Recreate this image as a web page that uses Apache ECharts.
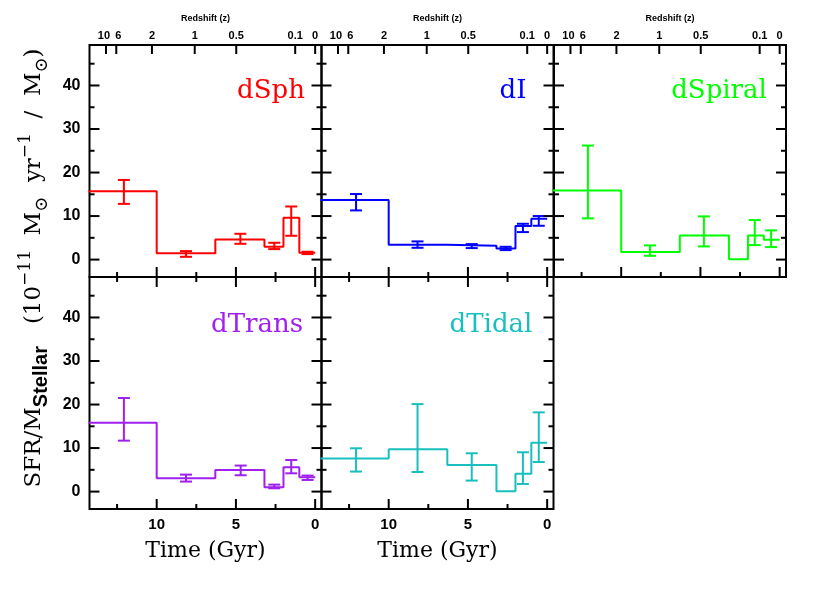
<!DOCTYPE html>
<html><head><meta charset="utf-8">
<script src="https://cdn.jsdelivr.net/npm/echarts@6/dist/echarts.min.js"></script>
<style>html,body{margin:0;padding:0;background:#fff}#c{width:830px;height:599px}</style>
</head><body><div id="c"></div>
<script>
// ---- data ----
const panelNames = ['dSph', 'dI', 'dSpiral', 'dTrans', 'dTidal'];
const panelColors = ['#ff0000', '#0000ff', '#00ff00', '#a020f0', '#19bfbf'];
const binEdges = [14.3, 10, 6.3, 3.2, 2.0, 1.0, 0];   // lookback time (Gyr)

const levelSph = [15.7, 1.43, 4.64, 2.94, 9.6, 1.56];
const levelI = [13.7, 3.4, 3.17, 2.57, 7.7, 9.38];
const levelSpiral = [15.9, 1.72, 5.56, 0.1, 5.56, 4.55];
const levelTrans = [15.8, 3.06, 4.97, 0.99, 5.59, 3.29];
const levelTidal = [7.6, 9.7, 6.1, 0.05, 4.1, 11.2];

const errTimeSph = [12.07, 8.15, 4.72, 2.58, 1.51, 0.48];
const errLowSph = [12.8, 0.64, 3.63, 2.41, 5.47, 1.26];
const errHighSph = [18.3, 1.95, 5.93, 3.86, 12.2, 1.8];

const errTimeI = [12.06, 8.18, 4.76, 2.62, 1.53, 0.53];
const errLowI = [11.3, 2.71, 2.64, 2.18, 6.32, 7.77];
const errHighI = [15.06, 4.18, 3.56, 2.94, 8.23, 10.0];

const errTimeSpiral = [12.1, 8.18, 4.78, 1.57, 0.54];
const errLowSpiral = [9.47, 0.87, 3.03, 3.33, 2.87];
const errHighSpiral = [26.2, 3.26, 9.93, 9.08, 6.71];

const errTimeTrans = [12.07, 8.15, 4.7, 2.58, 1.51, 0.48];
const errLowTrans = [11.7, 2.3, 3.75, 0.76, 4.2, 2.67];
const errHighTrans = [21.5, 3.9, 5.98, 1.6, 7.26, 3.68];

const errTimeTidal = [12.06, 8.18, 4.76, 1.53, 0.53];
const errLowTidal = [4.6, 4.5, 2.53, 1.75, 6.8];
const errHighTidal = [9.95, 20.1, 8.8, 9.03, 18.2];

const majorTimeTicks = [0, 5, 10];
const minorTimeTicks = [2.5, 7.5, 12.5];
const majorYTicks = [0, 10, 20, 30, 40];
const minorYTicks = [5, 15, 25, 35, 45];
const redshiftTimes = [13.2, 12.55, 10.3, 7.6, 4.98, 1.26, 0];
const redshiftLabels = ['10', '6', '2', '1', '0.5', '0.1', '0'];

// ---- layout ----
const xMin = -0.4, xMax = 14.24, yMin = -4, yMax = 49.3;
const colLeft = [89.5, 321.5, 554], rowTop = [45, 277], pW = 232, pH = 232;
const labelPos = [[271, 91], [513, 91], [719, 91], [257, 325], [491, 325]];

const levels = [levelSph, levelI, levelSpiral, levelTrans, levelTidal];
const errT = [errTimeSph, errTimeI, errTimeSpiral, errTimeTrans, errTimeTidal];
const errL = [errLowSph, errLowI, errLowSpiral, errLowTrans, errLowTidal];
const errH = [errHighSph, errHighI, errHighSpiral, errHighTrans, errHighTidal];

const grids = [], xAxes = [], yAxes = [], series = [], graphics = [];
const labelFont = { fontFamily: 'Liberation Sans', fontWeight: 'bold', color: '#000' };

function xAxisDef(g, pos, extra) {
  return Object.assign({
    gridIndex: g, type: 'value', position: pos, inverse: true, min: xMin, max: xMax,
    axisLine: { show: false, onZero: false }, splitLine: { show: false },
    axisTick: { show: false }, axisLabel: { show: false }
  }, extra || {});
}
function yAxisDef(g, pos, extra) {
  return Object.assign({
    gridIndex: g, type: 'value', position: pos, min: yMin, max: yMax,
    axisLine: { show: false, onZero: false }, splitLine: { show: false },
    axisTick: { show: false }, axisLabel: { show: false }
  }, extra || {});
}

// tick kinds: 0 time major, 1 time minor, 2 redshift, 3 y major, 4 y minor
const tickLen = [10, 5, 9, 10, 5];

for (let p = 0; p < 5; p++) {
  const row = p < 3 ? 0 : 1, col = p % 3;
  const rect = { left: colLeft[col], top: rowTop[row], width: pW, height: pH };
  const color = panelColors[p];
  const g = grids.length;
  grids.push(Object.assign({ show: true, borderColor: '#000', borderWidth: 2 }, rect));
  const xb = xAxes.length;
  xAxes.push(xAxisDef(g, 'bottom', row === 1 ? {
    axisLabel: Object.assign({ show: true, customValues: majorTimeTicks, fontSize: 15, margin: 8 }, labelFont),
    name: 'Time (Gyr)', nameLocation: 'middle', nameGap: 31,
    nameTextStyle: { fontFamily: 'DejaVu Serif', fontSize: 22, color: '#000' }
  } : {}));
  if (row === 0) {
    xAxes.push(xAxisDef(g, 'top', {
      axisLabel: Object.assign({
        show: true, customValues: redshiftTimes, fontSize: 11, margin: 4,
        formatter: v => {
          const s = redshiftLabels[redshiftTimes.indexOf(v)];
          return s === '10' ? '{l|' + s + '}' : (s === '6' ? '{r|' + s + '}' : s);
        },
        rich: {
          l: Object.assign({ fontSize: 11, padding: [0, 4, 0, 0] }, labelFont),
          r: Object.assign({ fontSize: 11, padding: [0, 0, 0, 4] }, labelFont)
        }
      }, labelFont),
      name: 'Redshift (z)', nameLocation: 'middle', nameGap: 22,
      nameTextStyle: { fontFamily: 'Liberation Sans', fontWeight: 'bold', fontSize: 9, color: '#000' }
    }));
  } else {
    xAxes.push(xAxisDef(g, 'top'));
  }
  const yl = yAxes.length;
  yAxes.push(yAxisDef(g, 'left', col === 0 ? {
    axisLabel: Object.assign({ show: true, customValues: majorYTicks, fontSize: 16, margin: 9 }, labelFont)
  } : {}));
  yAxes.push(yAxisDef(g, 'right'));

  const lv = levels[p];
  const stepData = binEdges.map((e, i) => [e, lv[Math.min(i, lv.length - 1)]]);
  series.push({
    type: 'line', xAxisIndex: xb, yAxisIndex: yl, data: stepData, step: 'end',
    symbol: 'none', showSymbol: false, clip: true, silent: true,
    lineStyle: { color: color, width: 2 }
  });
  const errData = errT[p].map((t, i) => [t, errL[p][i], errH[p][i]]);
  series.push({
    type: 'custom', xAxisIndex: xb, yAxisIndex: yl, data: errData, silent: true,
    encode: { x: 0, y: [1, 2] },
    renderItem: function (params, api) {
      const t = api.value(0), lo = api.value(1), hi = api.value(2);
      const a = api.coord([t, lo]), b = api.coord([t, hi]);
      const w = 6, st = { stroke: color, lineWidth: 2 };
      return {
        type: 'group', children: [
          { type: 'line', shape: { x1: a[0], y1: a[1], x2: b[0], y2: b[1] }, style: st },
          { type: 'line', shape: { x1: a[0] - w, y1: a[1], x2: a[0] + w, y2: a[1] }, style: st },
          { type: 'line', shape: { x1: b[0] - w, y1: b[1], x2: b[0] + w, y2: b[1] }, style: st }
        ]
      };
    }
  });

  // frame ticks, placed through the axes' scales: rows [x, y, kind]
  const tickData = [];
  majorTimeTicks.forEach(v => tickData.push([v, 20, 0]));
  minorTimeTicks.forEach(v => tickData.push([v, 20, 1]));
  if (row === 0) redshiftTimes.forEach(v => tickData.push([v, 20, 2]));
  majorYTicks.forEach(v => tickData.push([7, v, 3]));
  minorYTicks.forEach(v => tickData.push([7, v, 4]));
  const bothX = row === 1;
  series.push({
    type: 'custom', xAxisIndex: xb, yAxisIndex: yl, data: tickData, silent: true,
    encode: { x: 0, y: [1] },
    renderItem: function (params, api) {
      const p0 = api.coord([2, 10]), p1 = api.coord([12, 30]);
      const kx = (p1[0] - p0[0]) / 10, ky = (p1[1] - p0[1]) / 20;
      const xa = p0[0] + kx * (xMin - 2), xc = p0[0] + kx * (xMax - 2);
      const ya = p0[1] + ky * (yMin - 10), yc = p0[1] + ky * (yMax - 10);
      const L = Math.min(xa, xc), R = Math.max(xa, xc);
      const T = Math.min(ya, yc), B = Math.max(ya, yc);
      const kind = Math.round(api.value(2));
      const len = tickLen[kind];
      const pt = api.coord([api.value(0), api.value(1)]);
      const st = { stroke: '#000000', lineWidth: 2 };
      const ch = [];
      if (kind === 2) {
        ch.push({ type: 'line', shape: { x1: pt[0], y1: T, x2: pt[0], y2: T + len }, style: st });
      } else if (kind < 2) {
        ch.push({ type: 'line', shape: { x1: pt[0], y1: B, x2: pt[0], y2: B - len }, style: st });
        if (bothX) ch.push({ type: 'line', shape: { x1: pt[0], y1: T, x2: pt[0], y2: T + len }, style: st });
      } else {
        ch.push({ type: 'line', shape: { x1: L, y1: pt[1], x2: L + len, y2: pt[1] }, style: st });
        ch.push({ type: 'line', shape: { x1: R, y1: pt[1], x2: R - len, y2: pt[1] }, style: st });
      }
      return { type: 'group', children: ch };
    }
  });

  graphics.push({
    type: 'text', x: labelPos[p][0], y: labelPos[p][1], silent: true,
    style: {
      text: panelNames[p], fill: color, fontFamily: 'DejaVu Serif', fontSize: 26,
      align: 'center', verticalAlign: 'middle', textAlign: 'center', textVerticalAlign: 'middle'
    }
  });
}

// grid carrying the shared y-axis title
const gt = grids.length;
grids.push({ left: 89.5, top: 45, width: 232, height: 446, show: false });
xAxes.push({ gridIndex: gt, type: 'value', show: false });
yAxes.push({
  gridIndex: gt, type: 'value', position: 'left',
  axisLine: { show: false, onZero: false }, axisTick: { show: false }, axisLabel: { show: false }, splitLine: { show: false },
  name: '{m|SFR/M}{sub|Stellar}{m|   (10}{sup|−11}{m|  M}{sun|⊙}{m|  yr}{sup|−1}{m|  /  M}{sun|⊙}{m|)}',
  nameLocation: 'middle', nameGap: 38,
  nameTextStyle: {
    rich: {
      m: { fontFamily: 'DejaVu Serif', fontSize: 23, lineHeight: 34, color: '#000' },
      sub: { fontFamily: 'Liberation Sans', fontWeight: 'bold', fontSize: 20, lineHeight: 18, verticalAlign: 'bottom', color: '#000' },
      sun: { fontFamily: 'DejaVu Serif', fontSize: 18, lineHeight: 20, verticalAlign: 'bottom', color: '#000' },
      sup: { fontFamily: 'DejaVu Serif', fontSize: 17, lineHeight: 16, verticalAlign: 'top', color: '#000' }
    }
  }
});

const chart = echarts.init(document.getElementById('c'), null, { renderer: 'canvas' });
chart.setOption({
  animation: false,
  backgroundColor: '#ffffff',
  grid: grids, xAxis: xAxes, yAxis: yAxes, series: series, graphic: graphics
});
</script>
</body></html>
